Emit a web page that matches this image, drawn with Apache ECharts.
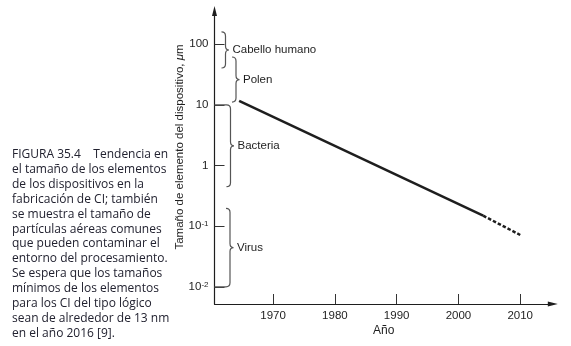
<!DOCTYPE html>
<html><head><meta charset="utf-8">
<script src="https://cdn.jsdelivr.net/npm/echarts@6/dist/echarts.min.js"></script>
<style>html,body{margin:0;padding:0;background:#fff}#c{width:571px;height:346px}</style>
</head><body><div id="c"></div>
<script>
// ---- data ----
const captionLines = [
  'FIGURA 35.4    Tendencia en',
  'el tamaño de los elementos',
  'de los dispositivos en la',
  'fabricación de CI; también',
  'se muestra el tamaño de',
  'partículas aéreas comunes',
  'que pueden contaminar el',
  'entorno del procesamiento.',
  'Se espera que los tamaños',
  'mínimos de los elementos',
  'para los CI del tipo lógico',
  'sean de alrededor de 13 nm',
  'en el año 2016 [9].'
];
const xTickYears = [1970, 1980, 1990, 2000, 2010];
const yTickValues = [0.01, 0.1, 1, 10, 100];
const yTickLabels = ['10^-2', '10^-1', '1', '10', '100'];
const trendYears = [1964.5, 2004];
const trendSizes = [11.6, 0.149];
const projYears = [2004, 2010];
const projSizes = [0.149, 0.0715];
const braceNames = ['Cabello humano', 'Polen', 'Bacteria', 'Virus'];
const braceTops = [159, 61.5, 10, 0.197];
const braceBottoms = [40.5, 11.1, 0.447, 0.01];
const xAxisTitle = 'Año';
const yAxisTitle = 'Tamaño de elemento del dispositivo, {i|μ}m';

// ---- layout / style ----
const AX_X = 214.5, AX_Y = 304, TOP_PX = 11, RIGHT_PX = 552.8;
const X1970 = 273.1, PX_PER_YEAR = 6.178;
const Y_ONE = 165.5, PX_PER_DEC = 60.66;
const xMin = 1970 - (X1970 - AX_X) / PX_PER_YEAR;
const xMax = 1970 + (RIGHT_PX - X1970) / PX_PER_YEAR;
const yMin = Math.pow(10, -(AX_Y - Y_ONE) / PX_PER_DEC);
const yMax = Math.pow(10, (Y_ONE - TOP_PX) / PX_PER_DEC);
const braceSpine = [11, 21.5, 16, 15.5];
const braceTopToAxis = [false, false, true, false];
const braceBotToAxis = [false, false, false, true];
const FONT = 'Liberation Sans, Arial, sans-serif';
const INK = '#1e1e1e';

const chart = echarts.init(document.getElementById('c'), null, {renderer: 'canvas'});

function yLabel(v) {
  let best = 0, bd = 1e9;
  yTickValues.forEach((t, i) => { const d = Math.abs(Math.log10(v) - Math.log10(t)); if (d < bd) { bd = d; best = i; } });
  const s = yTickLabels[best];
  if (s.indexOf('^') >= 0) { const p = s.split('^'); return '{b|' + p[0] + '}{s|' + p[1] + '}'; }
  return s;
}

const braceData = braceNames.map((n, i) => [braceTops[i], braceBottoms[i], i]);

chart.setOption({
  animation: false,
  title: {
    text: captionLines.join('\n'), left: 12, top: 147.5, padding: 0,
    textStyle: {fontFamily: 'Open Sans', fontSize: 12, fontWeight: 'normal', lineHeight: 14.85, color: '#222230'}
  },
  grid: [
    {left: AX_X, top: TOP_PX, width: RIGHT_PX - AX_X, height: AX_Y - TOP_PX},
    {left: AX_X, top: Y_ONE - 2 * PX_PER_DEC, width: RIGHT_PX - AX_X, height: 4 * PX_PER_DEC},
    {left: X1970, top: TOP_PX, width: 40 * PX_PER_YEAR, height: AX_Y - TOP_PX}
  ],
  xAxis: [
    {gridIndex: 0, type: 'value', min: xMin, max: xMax,
     axisLine: {show: true, symbol: ['none', 'triangle'], symbolSize: [5, 10], lineStyle: {color: INK, width: 1.2}},
     axisTick: {show: false}, axisLabel: {show: false}, splitLine: {show: false},
     name: xAxisTitle, nameLocation: 'middle', nameGap: 21,
     nameTextStyle: {fontFamily: FONT, fontSize: 12, color: INK}},
    {gridIndex: 1, type: 'value', show: false, min: xMin, max: xMax},
    {gridIndex: 2, type: 'value', min: xTickYears[0], max: xTickYears[xTickYears.length - 1], interval: 10,
     axisLine: {show: false}, splitLine: {show: false},
     axisTick: {show: true, inside: true, length: 10, lineStyle: {color: '#333', width: 1}},
     axisLabel: {show: true, margin: 6, fontFamily: FONT, fontSize: 11.5, color: INK, formatter: v => String(v)}}
  ],
  yAxis: [
    {gridIndex: 0, type: 'log', logBase: 10, min: yMin, max: yMax,
     axisLine: {show: true, symbol: ['none', 'triangle'], symbolSize: [5, 10], lineStyle: {color: INK, width: 1.2}},
     axisTick: {show: false}, axisLabel: {show: false}, splitLine: {show: false}},
    {gridIndex: 1, type: 'log', logBase: 10, min: yTickValues[0], max: yTickValues[yTickValues.length - 1],
     axisLine: {show: false}, splitLine: {show: false},
     axisTick: {show: true, inside: true, length: 10, lineStyle: {color: '#333', width: 1}},
     axisLabel: {show: true, margin: 6, fontFamily: FONT, fontSize: 11.5, color: INK, formatter: yLabel,
       rich: {b: {fontFamily: FONT, fontSize: 11.5, color: INK},
              s: {fontFamily: FONT, fontSize: 8, color: INK, verticalAlign: 'top', lineHeight: 8}}}},
    {gridIndex: 2, type: 'value', show: false}
  ],
  graphic: [{
    type: 'text', x: 180, y: 147, rotation: Math.PI / 2,
    style: {text: yAxisTitle, align: 'center', verticalAlign: 'middle', fontFamily: FONT, fontSize: 11.5, fill: INK,
      rich: {i: {fontStyle: 'italic', fontFamily: FONT, fontSize: 11.5, fill: INK, color: INK}}}
  }],
  series: [
    {type: 'line', xAxisIndex: 0, yAxisIndex: 0, data: trendYears.map((y, i) => [y, trendSizes[i]]),
     symbol: 'none', lineStyle: {color: INK, width: 2.5}, z: 3},
    {type: 'line', xAxisIndex: 0, yAxisIndex: 0, data: projYears.map((y, i) => [y, projSizes[i]]),
     symbol: 'none', lineStyle: {color: INK, width: 2.5, type: [3.5, 2]}, z: 3},
    {type: 'custom', xAxisIndex: 0, yAxisIndex: 0, data: braceData, clip: false,
     renderItem: function (params, api) {
       const i = api.value(2);
       const y1 = api.coord([xMin, api.value(0)])[1];
       const y2 = api.coord([xMin, api.value(1)])[1];
       const ax = params.coordSys.x;
       const xs = ax + braceSpine[i];
       const x0 = xs - 4, xt = xs + 3.5;
       const ym = (y1 + y2) / 2;
       const r = 4;
       let d = '';
       if (braceTopToAxis[i]) d += 'M' + ax + ' ' + y1 + 'L' + x0 + ' ' + y1; else d += 'M' + x0 + ' ' + y1;
       d += 'Q' + xs + ' ' + y1 + ' ' + xs + ' ' + (y1 + r);
       d += 'L' + xs + ' ' + (ym - r);
       d += 'Q' + xs + ' ' + ym + ' ' + xt + ' ' + ym;
       d += 'Q' + xs + ' ' + ym + ' ' + xs + ' ' + (ym + r);
       d += 'L' + xs + ' ' + (y2 - r);
       d += 'Q' + xs + ' ' + y2 + ' ' + x0 + ' ' + y2;
       if (braceBotToAxis[i]) d += 'L' + ax + ' ' + y2;
       const left = (braceTopToAxis[i] || braceBotToAxis[i]) ? ax : x0;
       return {type: 'group', children: [
         {type: 'path', shape: {pathData: d, x: left, y: y1, width: xt - left, height: y2 - y1, layout: 'cover'},
          style: {fill: 'none', stroke: '#555', lineWidth: 1.2}},
         {type: 'text', x: xt + 3.5, y: ym,
          style: {text: braceNames[i], fill: INK, fontFamily: FONT, fontSize: 11.5, align: 'left', verticalAlign: 'middle'}}
       ]};
     }}
  ]
});
</script></body></html>
